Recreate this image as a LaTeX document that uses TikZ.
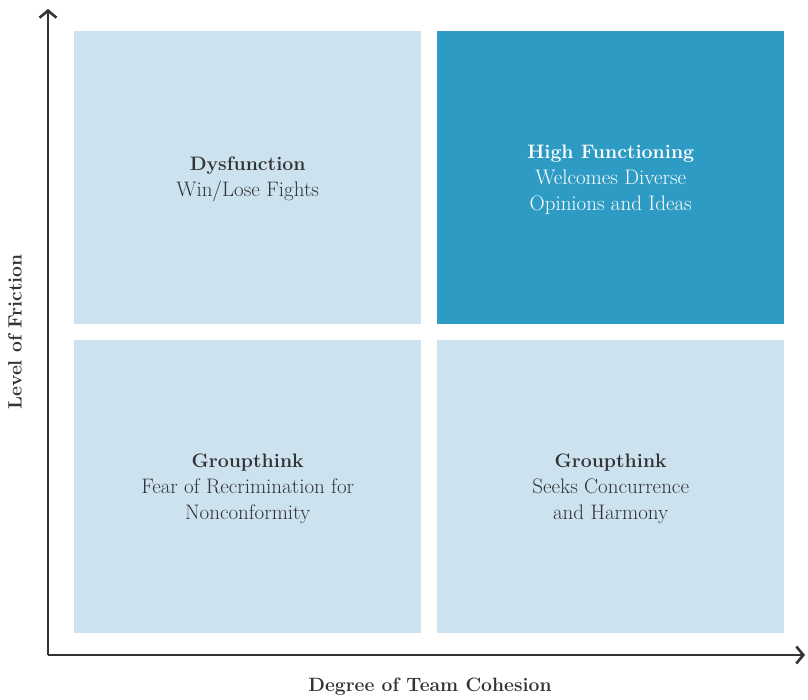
\documentclass[tikz,border=0pt]{standalone}
\usepackage{tikz}
\usetikzlibrary{arrows.meta}
\definecolor{paleblue}{HTML}{CCE3EF}
\definecolor{deepblue}{HTML}{2E9BC4}
\definecolor{ink}{HTML}{333335}
\newcommand{\head}[1]{{\bfseries\fontsize{19.5}{26}\selectfont #1}}
\tikzset{
	cell/.style={fill=paleblue, draw=none, minimum width=347pt, minimum height=293pt, anchor=north west, inner sep=0pt},
	label/.style={text=ink, align=center, font=\fontsize{21}{26}\selectfont, yshift=-2pt},
	axislabel/.style={text=ink, font=\bfseries\fontsize{19.3}{22}\selectfont},
	axis/.style={line width=2.6pt, draw=ink, -{Straight Barb[length=7pt, width=17pt, line width=2.6pt]}}
}
\begin{document}
\begin{tikzpicture}[x=1pt, y=-1pt]
			\useasboundingbox (0,0) rectangle (808,699);
			% the four quadrants
			\node[cell] (tl) at (74,31) {};
			\node[cell, fill=deepblue] (tr) at (437,31) {};
			\node[cell] (bl) at (74,340) {};
			\node[cell] (br) at (437,340) {};
			\node[label] (tltext) at (tl.center) {\head{Dysfunction}\\Win/Lose Fights};
			\node[label, text=white] (trtext) at (tr.center) {\head{High Functioning}\\Welcomes Diverse\\Opinions and Ideas};
			\node[label] (bltext) at (bl.center) {\head{Groupthink}\\Fear of Recrimination for\\Nonconformity};
			\node[label] (brtext) at (br.center) {\head{Groupthink}\\Seeks Concurrence\\and Harmony};
			% axes
			\coordinate (origin) at (48,655);
			\coordinate (ytip) at (48,9);
			\coordinate (xtip) at (805,655);
			\draw[axis] (origin) -- (ytip);
			\draw[axis] (origin) -- (xtip);
			\node[axislabel] (xlabel) at (430,687) {Degree of Team Cohesion};
			\node[axislabel, rotate=90] (ylabel) at (15,332) {Level of Friction};
		\end{tikzpicture}
\end{document}
